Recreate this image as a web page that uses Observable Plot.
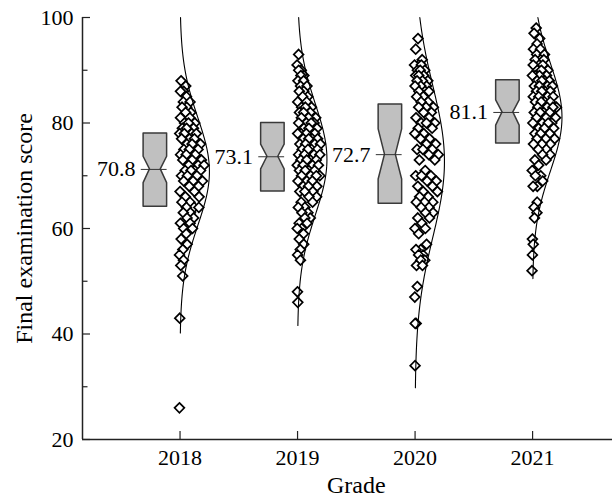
<!DOCTYPE html>
<html>
<head>
<meta charset="utf-8">
<script src="https://cdn.jsdelivr.net/npm/d3@7"></script>
<script src="https://cdn.jsdelivr.net/npm/@observablehq/plot@0.6"></script>
<style>
  html, body { margin: 0; padding: 0; background: #fff; }
  #chart svg { display: block; }
</style>
</head>
<body>
<div id="chart"></div>
<script>
// ---- data ----
const grades = [2018, 2019, 2020, 2021];
const meanLabels = [70.8, 73.1, 72.7, 81.1];
const q1 = [64.1, 67.0, 64.7, 76.1];
const median = [71.2, 73.6, 74.0, 82.0];
const q3 = [78.0, 80.0, 83.5, 88.1];
const notchLo = [68.6, 71.2, 69.3, 79.5];
const notchHi = [73.6, 75.9, 78.8, 84.3];
const sds = [10.2, 10.5, 14.3, 10.2];
const yTicks = [20, 40, 60, 80, 100];
const yMinorTicks = [30, 50, 70, 90];

const scores2018 = [88, 87, 86, 86, 85, 84, 84, 83, 83, 82, 82, 81, 81, 80, 80, 80, 79, 79, 79, 78, 78, 78, 78, 77, 77, 77, 76, 76, 76, 75, 75, 75, 74, 74, 74, 73, 73, 73, 72, 72, 72, 71, 71, 71, 71, 70, 70, 70, 69, 69, 69, 68, 68, 67, 67, 66, 66, 65, 65, 64, 64, 64, 63, 63, 62, 62, 61, 61, 60, 60, 59, 58, 57, 56, 55, 54, 53, 51, 43, 26];
const scores2019 = [93, 91, 90, 90, 89, 89, 88, 88, 87, 87, 86, 86, 85, 85, 84, 84, 83, 83, 83, 82, 82, 82, 81, 81, 81, 80, 80, 80, 80, 79, 79, 79, 78, 78, 78, 78, 77, 77, 77, 77, 76, 76, 76, 76, 75, 75, 75, 75, 74, 74, 74, 74, 73, 73, 73, 73, 72, 72, 72, 72, 71, 71, 71, 71, 70, 70, 70, 70, 69, 69, 69, 68, 68, 68, 67, 67, 67, 66, 66, 65, 65, 64, 64, 63, 63, 62, 62, 61, 61, 60, 60, 59, 58, 57, 56, 55, 54, 48, 46];
const scores2020 = [96, 94, 92, 91, 91, 91, 90, 90, 90, 89, 89, 89, 88, 88, 88, 87, 87, 87, 86, 86, 86, 85, 85, 84, 84, 83, 83, 83, 82, 82, 81, 81, 80, 80, 80, 79, 79, 78, 78, 77, 77, 76, 76, 75, 75, 75, 74, 74, 73, 73, 71, 70, 70, 70, 69, 69, 68, 68, 67, 67, 66, 66, 65, 65, 65, 64, 64, 63, 63, 62, 62, 61, 60, 60, 59, 57, 56, 56, 55, 55, 54, 54, 53, 53, 49, 47, 42, 42, 34];
const scores2021 = [98, 97, 96, 95, 94, 94, 93, 93, 92, 92, 92, 91, 91, 91, 90, 90, 90, 89, 89, 89, 89, 88, 88, 88, 88, 87, 87, 87, 87, 86, 86, 86, 86, 85, 85, 85, 85, 84, 84, 84, 84, 83, 83, 83, 83, 82, 82, 82, 82, 81, 81, 81, 80, 80, 80, 80, 79, 79, 79, 78, 78, 78, 77, 77, 77, 76, 76, 76, 75, 75, 74, 74, 73, 73, 72, 71, 70, 70, 69, 68, 68, 65, 64, 63, 62, 58, 57, 55, 52];
const scoresByGrade = [scores2018, scores2019, scores2020, scores2021];

// ---- layout constants ----
const W = 612, H = 499, mL = 82, mR = 0, mT = 17, mB = 60;
const xDomain = [2017.17, 2021.68];
const yDomain = [20, 100];
const pxX = (xDomain[1] - xDomain[0]) / (W - mL - mR);
const pxY = (yDomain[1] - yDomain[0]) / (H - mT - mB);
const peakW = 0.25;               // width of the normal curve at its peak (x units)
const boxL = 0.31, boxR = 0.11, notchIn = 0.054;
const font = "'Liberation Serif', 'Times New Roman', serif";

const density = (s, m, sd) => peakW * Math.exp(-0.5 * ((s - m) / sd) ** 2);

// points (deterministic low-discrepancy spread inside the curve)
const points = [];
scoresByGrade.forEach((arr, g) => {
  arr.forEach((s, i) => {
    const u = ((i * 0.6180339887 + 0.27 + g * 0.13) % 1);
    const w = density(s, meanLabels[g], sds[g]);
    points.push({grade: grades[g], score: s, x: grades[g] - 0.005 + u * w * 0.85});
  });
});

// normal curves
const curves = [];
grades.forEach((gr, g) => {
  const lo = Math.max(yDomain[0], meanLabels[g] - 3 * sds[g]);
  const hi = Math.min(yDomain[1], meanLabels[g] + 3 * sds[g]);
  const n = 120;
  for (let k = 0; k <= n; k++) {
    const s = lo + (hi - lo) * k / n;
    curves.push({grade: gr, score: s, x: gr + density(s, meanLabels[g], sds[g])});
  }
});

// notched boxes as areaX outlines
const boxes = [];
grades.forEach((gr, g) => {
  const L = gr - boxL, R = gr - boxR;
  const rows = [
    [q1[g], L, R],
    [notchLo[g], L, R],
    [median[g], L + notchIn, R - notchIn],
    [notchHi[g], L, R],
    [q3[g], L, R]
  ];
  rows.forEach(([y, x1, x2]) => boxes.push({grade: gr, y, x1, x2}));
});
const boxInfo = grades.map((gr, g) => ({grade: gr, median: median[g], mean: meanLabels[g]}));

const chart = Plot.plot({
  width: W, height: H,
  marginLeft: mL, marginRight: mR, marginTop: mT, marginBottom: mB,
  x: {domain: xDomain, axis: null},
  y: {domain: yDomain, axis: null},
  style: {fontFamily: font, fontSize: "22px", background: "#fff", color: "#000", overflow: "visible"},
  marks: [
    // boxes
    Plot.areaX(boxes, {y: "y", x1: "x1", x2: "x2", z: "grade", fill: "#c0c0c0", stroke: "#3a3a3a", strokeWidth: 1.5, curve: "linear"}),
    Plot.ruleY(boxInfo, {y: "median", x1: d => d.grade - boxL - 0.02, x2: d => d.grade - boxR, stroke: "#333", strokeWidth: 1}),
    Plot.text(boxInfo, {x: d => d.grade - boxL - 0.07, y: "median", text: d => d.mean.toFixed(1), textAnchor: "end", fontSize: 22, fill: "#000"}),
    // points
    Plot.dot(points, {x: "x", y: "score", symbol: "diamond2", r: 4.4, stroke: "#000", fill: "#fff", strokeWidth: 1.7}),
    // normal curves
    Plot.line(curves, {x: "x", y: "score", z: "grade", stroke: "#000", strokeWidth: 1.1}),
    // axes lines
    Plot.ruleX([xDomain[0]], {stroke: "#222", strokeWidth: 1.5}),
    Plot.ruleY([yDomain[0]], {stroke: "#222", strokeWidth: 1.5}),
    // inward ticks
    Plot.ruleY(yTicks, {x1: xDomain[0], x2: xDomain[0] + 8 * pxX, stroke: "#222", strokeWidth: 1.2}),
    Plot.ruleY(yMinorTicks, {x1: xDomain[0], x2: xDomain[0] + 5.5 * pxX, stroke: "#222", strokeWidth: 1.2}),
    Plot.ruleX(grades, {y1: yDomain[0], y2: yDomain[0] + 8 * pxY, stroke: "#222", strokeWidth: 1.2}),
    // tick labels
    Plot.axisY({ticks: yTicks, tickSize: 0, tickPadding: 9, label: null, fontSize: 22, tickFormat: d => String(d)}),
    Plot.axisX({ticks: grades, tickSize: 0, tickPadding: 10, label: null, fontSize: 22, tickFormat: d => String(d)}),
    // axis titles
    Plot.text(["Grade"], {x: 2019.5, frameAnchor: "bottom", dy: 53, text: d => d, fontSize: 24, fill: "#000"}),
    Plot.text(["Final examination score"], {frameAnchor: "left", dx: -58, rotate: -90, textAnchor: "middle", text: d => d, fontSize: 24, fill: "#000"})
  ]
});
document.getElementById("chart").appendChild(chart);
</script>
</body>
</html>
